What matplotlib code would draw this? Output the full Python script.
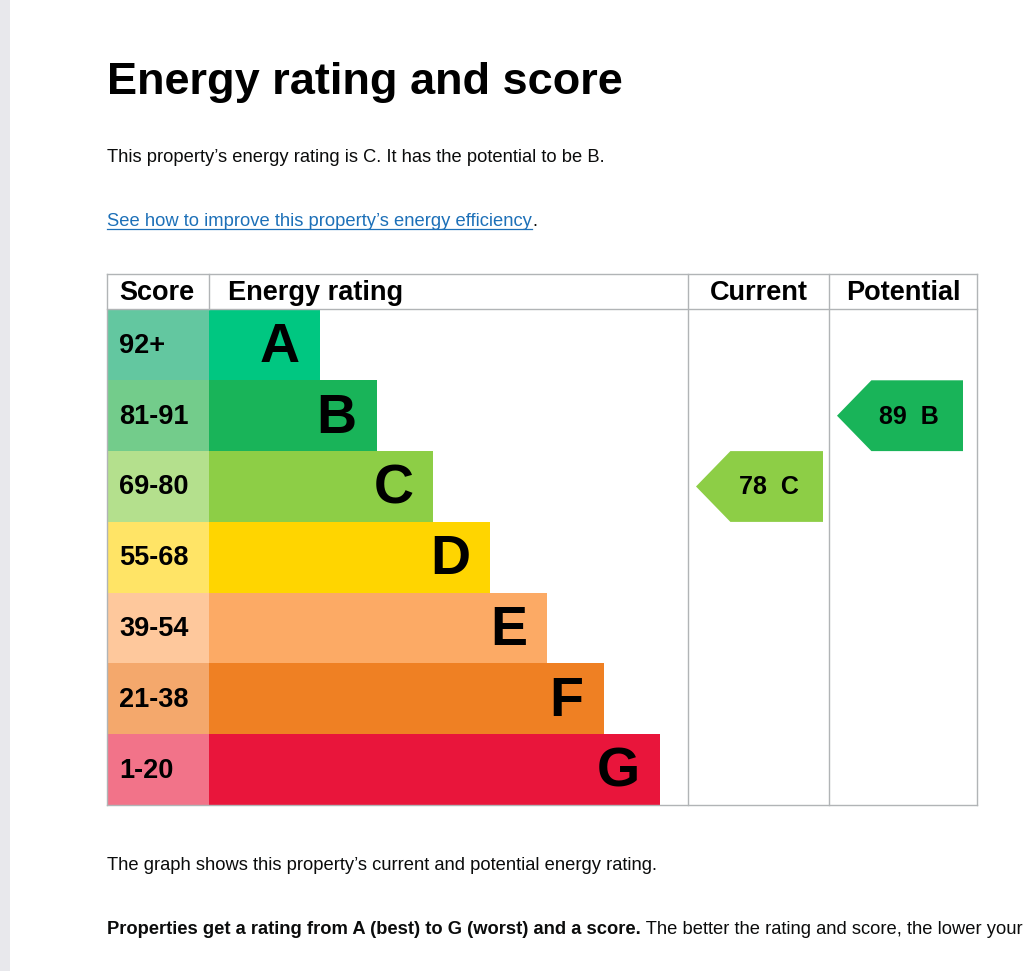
import matplotlib
matplotlib.use("Agg")
import matplotlib.pyplot as plt
from matplotlib.patches import Polygon, Rectangle

plt.rcParams['font.family'] = ['Liberation Sans', 'DejaVu Sans']

# EPC bands, top (best) to bottom (worst)
bands = ["A", "B", "C", "D", "E", "F", "G"]
score_ranges = ["92+", "81-91", "69-80", "55-68", "39-54", "21-38", "1-20"]
band_colors = ["#00c781", "#19b459", "#8dce46", "#ffd500", "#fcaa65", "#ef8023", "#e9153b"]
score_colors = ["#63c7a0", "#73cc8b", "#b4e08d", "#ffe466", "#fec89c", "#f4a86c", "#f27389"]

current_score = 78
current_band = "C"
potential_score = 89
potential_band = "B"

title = "Energy rating and score"
intro = "This property\u2019s energy rating is C. It has the potential to be B."
link = "See how to improve this property\u2019s energy efficiency"
graph_note = "The graph shows this property\u2019s current and potential energy rating."
bold_note = "Properties get a rating from A (best) to G (worst) and a score."
rest_note = " The better the rating and score, the lower your"

# layout (pixels)
W, H = 1024, 971
tab_left, tab_right = 107, 977
head_top, head_bot = 274, 309.5
row_h = 70.8
score_right = 209
col_cur, col_pot = 688, 829
bar_min, bar_step = 111, 56.7
line_col = "#b1b4b6"

fig = plt.figure(figsize=(W / 100, H / 100), dpi=100)
ax = fig.add_axes([0, 0, 1, 1])
ax.set_xlim(0, W)
ax.set_ylim(H, 0)
ax.axis("off")

# page edge on the left
ax.add_patch(Rectangle((0, 0), 10, H, color="#e8e8ec", lw=0))

# texts above the chart
ax.text(107, 94, title, fontsize=32.5, fontweight="bold", va="baseline")
ax.text(107, 162, intro, fontsize=13.2, va="baseline", color="#0b0c0c")
lk = ax.text(107, 226, link, fontsize=13.2, va="baseline", color="#1d70b8")
fig.canvas.draw()
r = fig.canvas.get_renderer()
lw_px = lk.get_window_extent(r).width
ax.plot([107, 107 + lw_px], [229.5, 229.5], color="#1d70b8", lw=0.9)
ax.text(107 + lw_px, 226, ".", fontsize=13.2, va="baseline", color="#0b0c0c")

# table frame
n = len(bands)
tab_bot = head_bot + n * row_h
for x in [tab_left, col_cur, col_pot, tab_right]:
    ax.plot([x, x], [head_top, tab_bot], color=line_col, lw=1)
ax.plot([score_right, score_right], [head_top, head_bot], color=line_col, lw=1)
for y in [head_top, head_bot, tab_bot]:
    ax.plot([tab_left, tab_right], [y, y], color=line_col, lw=1)

# headers
hy = (head_top + head_bot) / 2 + 1
ax.text(119, hy, "Score", fontsize=19.5, fontweight="bold", va="center")
ax.text(228, hy, "Energy rating", fontsize=19.5, fontweight="bold", va="center")
ax.text((col_cur + col_pot) / 2, hy, "Current", fontsize=19.5, fontweight="bold", va="center", ha="center")
ax.text((col_pot + tab_right) / 2, hy, "Potential", fontsize=19.5, fontweight="bold", va="center", ha="center")

# bars
centers = [head_bot + row_h * (i + 0.5) for i in range(n)]
widths = [bar_min + bar_step * i for i in range(n)]
ax.barh(centers, [score_right - tab_left] * n, left=tab_left, height=row_h, color=score_colors, lw=0)
ax.barh(centers, widths, left=score_right, height=row_h, color=band_colors, lw=0)
for i in range(n):
    ax.text(119, centers[i] + 1, score_ranges[i], fontsize=19.5, fontweight="bold", va="center")
    ax.text(score_right + widths[i] - 20, centers[i] + 3, bands[i], fontsize=40,
            fontweight="bold", va="center", ha="right")


def arrow(band, score, x_tip, x_right):
    i = bands.index(band)
    yc = centers[i]
    top, bot = yc - row_h / 2, yc + row_h / 2
    x_in = x_tip + row_h / 2 - 1
    ax.add_patch(Polygon([(x_tip, yc), (x_in, top), (x_right, top), (x_right, bot), (x_in, bot)],
                         closed=True, color=band_colors[i], lw=0))
    ax.text((x_in + x_right) / 2 - 8, yc + 1, "%d  %s" % (score, band), fontsize=18,
            fontweight="bold", va="center", ha="center")


arrow(current_band, current_score, 696, 823)
arrow(potential_band, potential_score, 837, 963)

# notes below
ax.text(107, 870, graph_note, fontsize=13.2, va="baseline", color="#0b0c0c")
bt = ax.text(107, 934, bold_note, fontsize=13.2, fontweight="bold", va="baseline", color="#0b0c0c")
fig.canvas.draw()
bw = bt.get_window_extent(fig.canvas.get_renderer()).width
ax.text(107 + bw, 934, rest_note, fontsize=13.2, va="baseline", color="#0b0c0c")

fig.savefig("out.png", dpi=100)
